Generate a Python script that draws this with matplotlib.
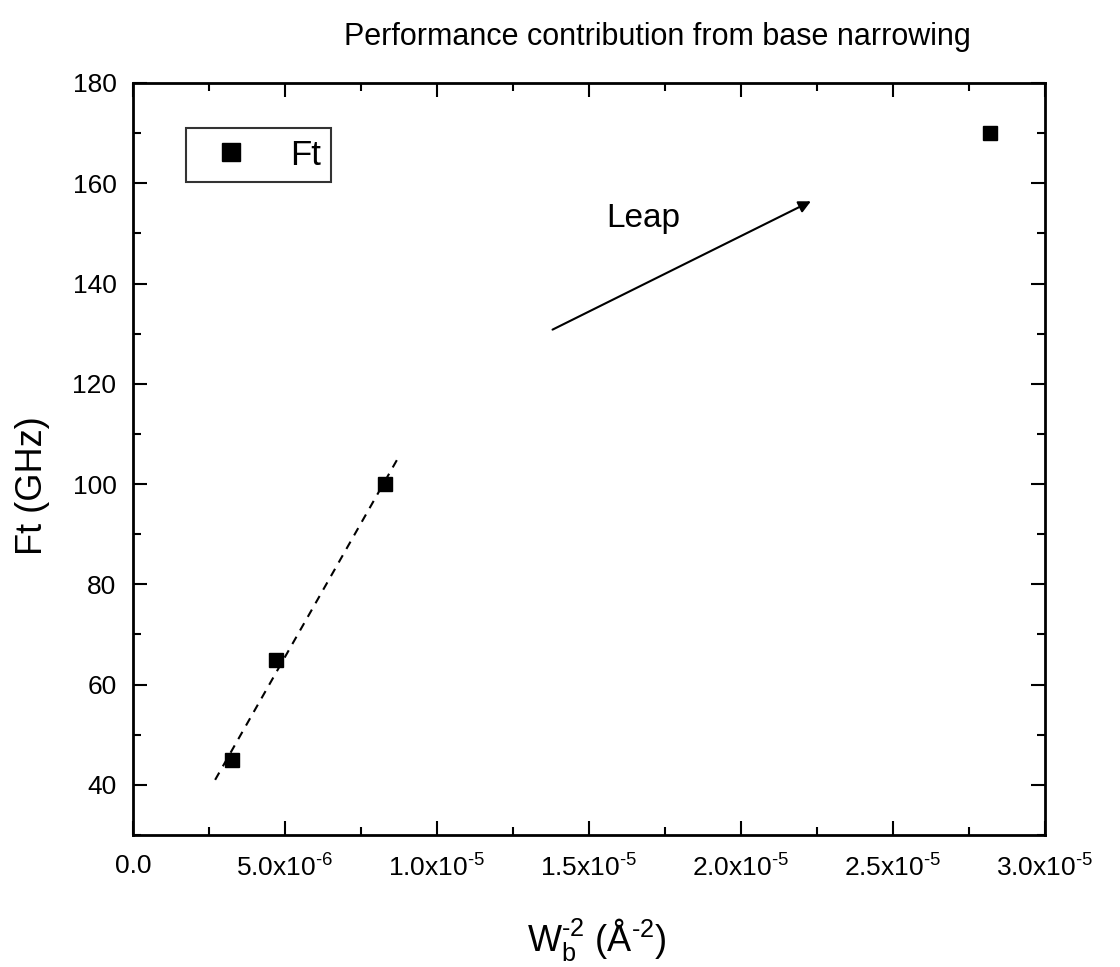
import numpy as np
import matplotlib
matplotlib.use('Agg')
import matplotlib.pyplot as plt
from matplotlib.ticker import MultipleLocator, FuncFormatter

# data
wb_inv_sq = [3.25e-6, 4.7e-6, 8.3e-6, 2.82e-5]
ft_ghz = [45, 65, 100, 170]

# dashed fit line through the first three points
fit_x = [2.7e-6, 8.7e-6]
fit_y = [41, 105]

# "Leap" arrow (tail, head) and label
arrow_tail = (1.38e-5, 130.8)
arrow_head = (2.23e-5, 156.4)
leap_pos = (1.68e-5, 153)

plt.rcParams['font.family'] = ['Liberation Sans', 'DejaVu Sans']
plt.rcParams['mathtext.fontset'] = 'custom'
plt.rcParams['mathtext.rm'] = 'Liberation Sans'
plt.rcParams['mathtext.it'] = 'Liberation Sans'
plt.rcParams['axes.unicode_minus'] = False

HY = '\u2010'  # plain hyphen, like the original

fig = plt.figure(figsize=(11.2, 9.67), dpi=100)
ax = fig.add_axes([0.1188, 0.1365, 0.8142, 0.7777])

ax.plot(fit_x, fit_y, linestyle=(0, (4, 3.5)), color='black', linewidth=1.5)
ax.plot(wb_inv_sq, ft_ghz, linestyle='none', marker='s', markersize=10,
        color='black', label='Ft')

ax.annotate('', xy=arrow_head, xytext=arrow_tail,
            arrowprops=dict(arrowstyle='-|>', color='black', lw=1.5,
                            mutation_scale=18, shrinkA=0, shrinkB=0))
ax.text(leap_pos[0], leap_pos[1], 'Leap', fontsize=24, ha='center', va='center')

ax.set_xlim(0, 3.0e-5)
ax.set_ylim(30, 180)
ax.xaxis.set_major_locator(MultipleLocator(5e-6))
ax.xaxis.set_minor_locator(MultipleLocator(2.5e-6))
ax.yaxis.set_minor_locator(MultipleLocator(10))
ax.set_yticks([40, 60, 80, 100, 120, 140, 160, 180])


def sci_fmt(v, pos):
    if abs(v) < 1e-12:
        return '0.0'
    exp = int(np.floor(np.log10(abs(v))))
    mant = v / 10 ** exp
    return f'{mant:.1f}x10$^{{{HY}{abs(exp)}}}$'


ax.xaxis.set_major_formatter(FuncFormatter(sci_fmt))

ax.tick_params(which='both', direction='in', top=True, right=True,
               labelsize=19, width=1.5)
ax.tick_params(which='major', length=10)
ax.tick_params(axis='x', which='major', pad=14)
ax.tick_params(axis='y', which='major', pad=12)
ax.tick_params(which='minor', length=6)
for sp in ax.spines.values():
    sp.set_linewidth(2)

ax.set_xlabel(f'W$_\\mathregular{{b}}^\\mathregular{{{HY}2}}$ (Å$^\\mathregular{{{HY}2}}$)',
              fontsize=26)
ax.xaxis.set_label_coords(0.509, -0.108, transform=ax.transAxes)
ax.set_ylabel('Ft (GHz)', fontsize=26)
ax.yaxis.set_label_coords(-0.091, 0.465, transform=ax.transAxes)
ax.set_title('Performance contribution from base narrowing', fontsize=22,
             x=0.575, pad=27)

leg = ax.legend(loc='upper left', bbox_to_anchor=(0.058, 0.94), borderaxespad=0,
                fontsize=25, frameon=True, fancybox=False, edgecolor='black',
                borderpad=0.3, handlelength=2.0, handletextpad=0.7,
                markerscale=1.3)
leg.get_frame().set_linewidth(1.5)

fig.savefig('out.png', dpi=100)
